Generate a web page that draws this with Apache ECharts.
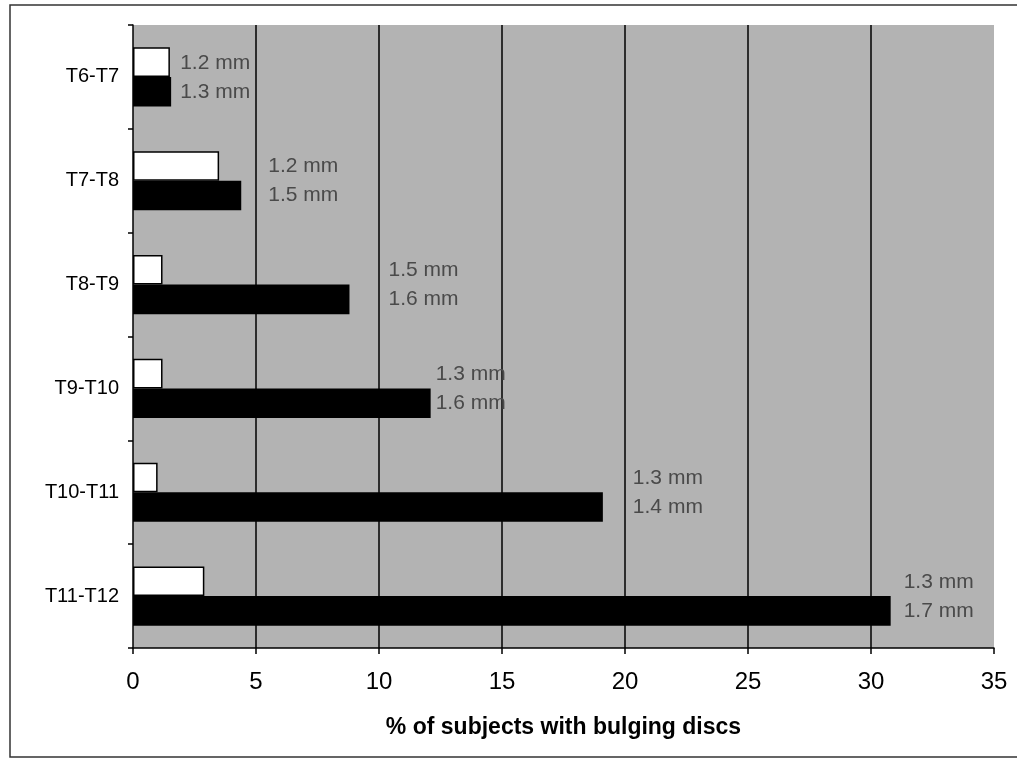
<!DOCTYPE html>
<html>
<head>
<meta charset="utf-8">
<script src="https://cdn.jsdelivr.net/npm/echarts@6/dist/echarts.min.js"></script>
<style>
html,body{margin:0;padding:0;background:#fff;}
#chart{width:1017px;height:758px;}
</style>
</head>
<body>
<div id="chart"></div>
<script>
// ---- data ----
const categories = ['T6-T7', 'T7-T8', 'T8-T9', 'T9-T10', 'T10-T11', 'T11-T12'];
const whiteValues = [1.5, 3.5, 1.2, 1.2, 1.0, 2.9];
const blackValues = [1.55, 4.4, 8.8, 12.1, 19.1, 30.8];
const whiteSizes = ['1.2 mm', '1.2 mm', '1.5 mm', '1.3 mm', '1.3 mm', '1.3 mm'];
const blackSizes = ['1.3 mm', '1.5 mm', '1.6 mm', '1.6 mm', '1.4 mm', '1.7 mm'];
const xTicks = [0, 5, 10, 15, 20, 25, 30, 35];
const xTitle = '% of subjects with bulging discs';

// ---- layout (label placement only) ----
const labelShift = [9, 27, 39, 5, 30, 13];

const chart = echarts.init(document.getElementById('chart'), null, {renderer: 'canvas'});

const blackData = blackValues.map((v, i) => ({
  value: v,
  label: {
    show: true,
    position: 'right',
    distance: 0,
    offset: [labelShift[i], -14.5],
    formatter: whiteSizes[i] + '\n' + blackSizes[i]
  }
}));

const option = {
  animation: false,
  backgroundColor: '#ffffff',
  grid: {
    left: 133, right: 23, top: 25, bottom: 110,
    show: true,
    backgroundColor: '#b3b3b3',
    borderWidth: 0
  },
  xAxis: {
    type: 'value',
    min: xTicks[0],
    max: xTicks[xTicks.length - 1],
    interval: xTicks[1] - xTicks[0],
    name: xTitle,
    nameLocation: 'middle',
    nameGap: 68,
    nameTextStyle: {fontFamily: 'Liberation Sans, Arial, sans-serif', fontWeight: 'bold', fontSize: 23, color: '#000'},
    axisLine: {show: true, lineStyle: {color: '#000', width: 1.5}},
    axisTick: {show: true, length: 6, lineStyle: {color: '#000', width: 1.5}},
    axisLabel: {margin: 22, fontFamily: 'Liberation Sans, Arial, sans-serif', fontSize: 24, color: '#000'},
    splitLine: {show: true, showMinLine: false, showMaxLine: false, lineStyle: {color: '#000', width: 1.5}}
  },
  yAxis: {
    type: 'category',
    data: categories,
    inverse: true,
    axisLine: {show: true, lineStyle: {color: '#000', width: 1.5}},
    axisTick: {show: true, length: 5, lineStyle: {color: '#000', width: 1.5}},
    axisLabel: {margin: 14, fontFamily: 'Liberation Sans, Arial, sans-serif', fontSize: 20, color: '#000'},
    splitLine: {show: false}
  },
  series: [
    {
      name: 'white',
      type: 'bar',
      data: whiteValues,
      barGap: '0%',
      barCategoryGap: '43%',
      itemStyle: {color: '#ffffff', borderColor: '#000', borderWidth: 1.5},
      z: 3
    },
    {
      name: 'black',
      type: 'bar',
      data: blackData,
      barGap: '0%',
      barCategoryGap: '43%',
      itemStyle: {color: '#000000'},
      label: {
        fontFamily: 'Liberation Sans, Arial, sans-serif',
        fontSize: 21,
        lineHeight: 29,
        color: '#4a4a4a',
        align: 'left'
      },
      z: 3
    }
  ],
  graphic: [
    {type: 'polyline', shape: {points: [[1017, 5], [10, 5], [10, 757], [1017, 757]]},
     style: {stroke: '#333', lineWidth: 1.5, fill: null}, silent: true}
  ]
};
chart.setOption(option);
</script>
</body>
</html>
